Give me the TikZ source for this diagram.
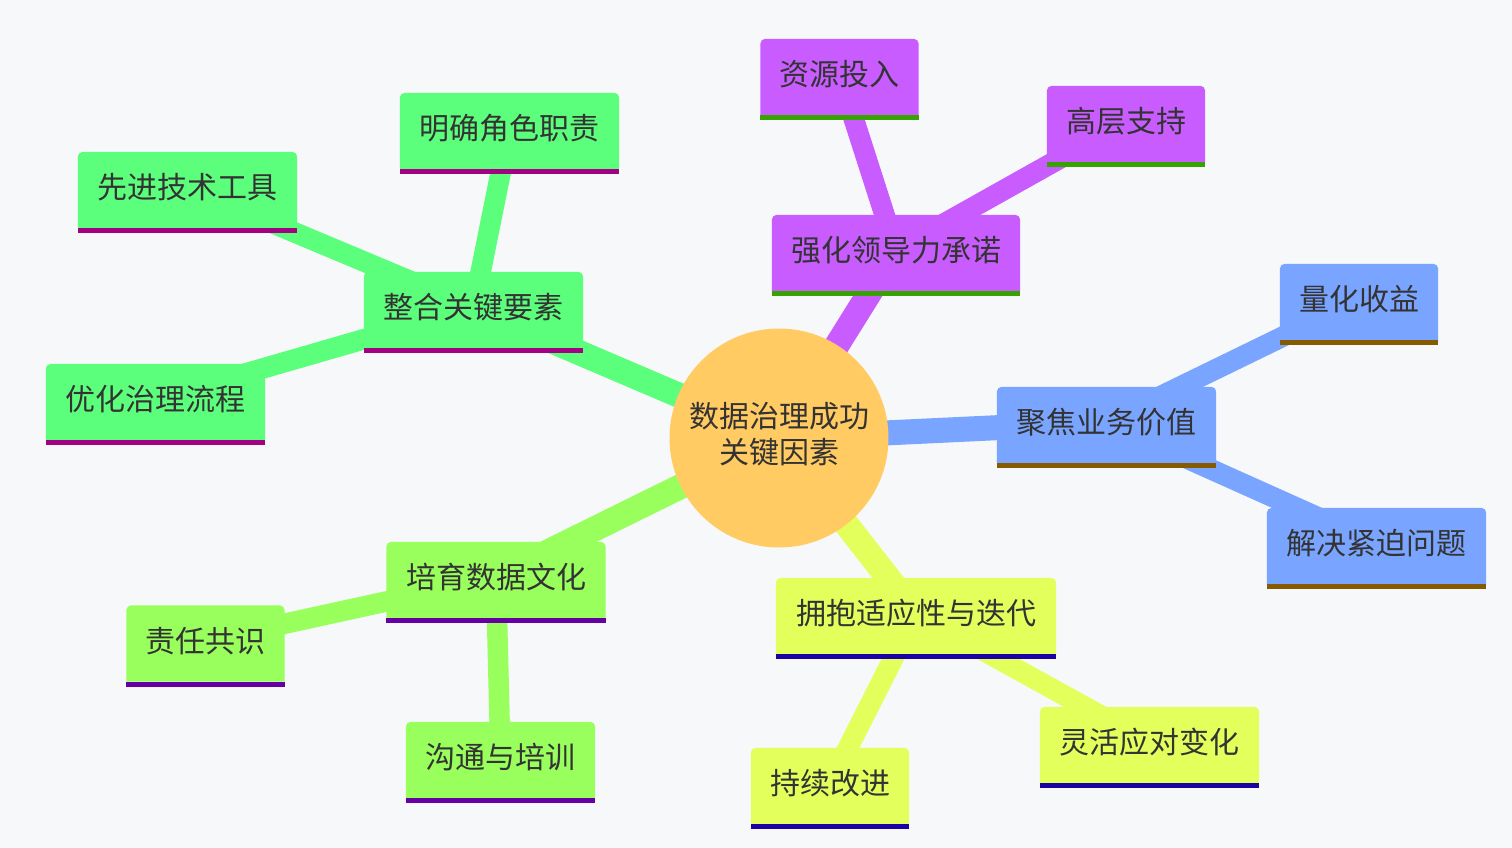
\documentclass[tikz,border=0pt]{standalone}
\usepackage{fontspec}
\setmainfont{Noto Sans CJK SC}
\definecolor{bgc}{HTML}{F6F8FA}
\definecolor{txt}{HTML}{333333}
\definecolor{rootc}{HTML}{FFCB62}
\definecolor{pA}{HTML}{C95CFF}\definecolor{uA}{HTML}{36A300}
\definecolor{pB}{HTML}{79A4FF}\definecolor{uB}{HTML}{865B00}
\definecolor{pC}{HTML}{E2FF5C}\definecolor{uC}{HTML}{1D00A3}
\definecolor{pD}{HTML}{98FF5C}\definecolor{uD}{HTML}{6700A3}
\definecolor{pE}{HTML}{5CFF7B}\definecolor{uE}{HTML}{A30084}
\pgfdeclarelayer{canvasbg}
\pgfdeclarelayer{edges}
\pgfdeclarelayer{boxes}
\pgfsetlayers{canvasbg,edges,boxes,main}
\newcommand\mmbx[3]{\fill[#2] ([yshift=-2.5pt]#1.south west) [rounded corners=5pt] -- ([yshift=-2.5pt]#1.north west) -- ([yshift=-2.5pt]#1.north east) [sharp corners] -- ([yshift=-2.5pt]#1.south east) -- cycle;
\fill[#3] ([yshift=-2.5pt]#1.south west) rectangle ([yshift=-7.5pt]#1.south east);}
\tikzset{
  mbox/.style={rectangle, inner sep=0pt, minimum height=76pt, text=txt, font=\fontsize{30}{34}\selectfont},
  rootn/.style={circle, fill=rootc, inner sep=0pt, minimum size=219pt, text=txt, font=\fontsize{30}{34}\selectfont},
  ezero/.style={line width=25pt, draw=#1},
  eone/.style={line width=20.5pt, draw=#1}
}
\begin{document}
\begin{tikzpicture}[x=1pt,y=-1pt]
\begin{pgfonlayer}{canvasbg}
\fill[bgc] (0,0) rectangle (1512,848);
\end{pgfonlayer}
\useasboundingbox (0,0) rectangle (1512,848);
\node[rootn] (R) at (779,438) {\raisebox{3pt}{\begin{tabular}{@{}c@{}}数据治理成功\\关键因素\end{tabular}}};
% branch A
\node[mbox, minimum width=248pt] (A) at (896,250.5) {强化领导力承诺};
\node[mbox, minimum width=158pt] (A1) at (839.5,74.5) {资源投入};
\node[mbox, minimum width=158pt] (A2) at (1126,121.5) {高层支持};
% branch B
\node[mbox, minimum width=219pt] (B) at (1106.5,422.5) {聚焦业务价值};
\node[mbox, minimum width=158pt] (B1) at (1359,299.5) {量化收益};
\node[mbox, minimum width=219pt] (B2) at (1376.5,543.5) {解决紧迫问题};
% branch C
\node[mbox, minimum width=280pt] (C) at (916,613.5) {拥抱适应性与迭代};
\node[mbox, minimum width=158pt] (C1) at (830,783.5) {持续改进};
\node[mbox, minimum width=219pt] (C2) at (1149.5,742.5) {灵活应对变化};
% branch D
\node[mbox, minimum width=219pt] (D) at (496,577.5) {培育数据文化};
\node[mbox, minimum width=158pt] (D1) at (205.5,641) {责任共识};
\node[mbox, minimum width=189pt] (D2) at (500.5,757.5) {沟通与培训};
% branch E
\node[mbox, minimum width=219pt] (E) at (473.5,307.5) {整合关键要素};
\node[mbox, minimum width=219pt] (E1) at (509.5,128.5) {明确角色职责};
\node[mbox, minimum width=219pt] (E2) at (187.5,187.5) {先进技术工具};
\node[mbox, minimum width=219pt] (E3) at (155.5,399.5) {优化治理流程};
\begin{pgfonlayer}{edges}
\draw[ezero=pA] (R.center) -- (A.center);
\draw[ezero=pB] (R.center) -- (B.center);
\draw[ezero=pC] (R.center) -- (C.center);
\draw[ezero=pD] (R.center) -- (D.center);
\draw[ezero=pE] (R.center) -- (E.center);
\draw[eone=pA] (A.center) -- (A1.center);
\draw[eone=pA] (A.center) -- (A2.center);
\draw[eone=pB] (B.center) -- (B1.center);
\draw[eone=pB] (B.center) -- (B2.center);
\draw[eone=pC] (C.center) -- (C1.center);
\draw[eone=pC] (C.center) -- (C2.center);
\draw[eone=pD] (D.center) -- (D1.center);
\draw[eone=pD] (D.center) -- (D2.center);
\draw[eone=pE] (E.center) -- (E1.center);
\draw[eone=pE] (E.center) -- (E2.center);
\draw[eone=pE] (E.center) -- (E3.center);
\end{pgfonlayer}
\begin{pgfonlayer}{boxes}
\mmbx{A}{pA}{uA}\mmbx{A1}{pA}{uA}\mmbx{A2}{pA}{uA}
\mmbx{B}{pB}{uB}\mmbx{B1}{pB}{uB}\mmbx{B2}{pB}{uB}
\mmbx{C}{pC}{uC}\mmbx{C1}{pC}{uC}\mmbx{C2}{pC}{uC}
\mmbx{D}{pD}{uD}\mmbx{D1}{pD}{uD}\mmbx{D2}{pD}{uD}
\mmbx{E}{pE}{uE}\mmbx{E1}{pE}{uE}\mmbx{E2}{pE}{uE}\mmbx{E3}{pE}{uE}
\end{pgfonlayer}
\end{tikzpicture}
\end{document}
